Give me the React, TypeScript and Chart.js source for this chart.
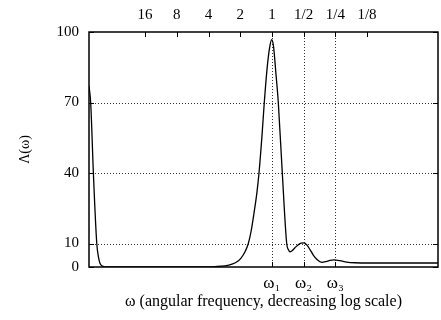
import React, { useEffect, useRef } from 'react';
import { Chart, registerables } from 'chart.js';

Chart.register(...registerables);

// x values are log2(ω); axis is drawn decreasing (reversed)
const omegaLog2 = [
  5.771, 5.717, 5.632, 5.525, 5.468, 5.421, 5.326, 5.2, 4.948, 4.16, 2.898, 2.268,
  1.795, 1.479, 1.258, 1.101, 0.974, 0.848, 0.744, 0.659, 0.564, 0.47, 0.407, 0.312,
  0.24, 0.155, 0.076, 0.006, -0.05, -0.129, -0.202, -0.328, -0.467, -0.524, -0.571,
  -0.634, -0.728, -0.823, -0.918, -1.012, -1.107, -1.202, -1.306, -1.422, -1.57,
  -1.706, -1.832, -1.958, -2.147, -2.359, -2.621, -3.094, -4.04, -5.238,
];
const lambdaValues = [
  77, 70, 40, 10, 4, 1.5, 0.3, 0, 0, 0, 0, 0.05,
  0.2, 0.5, 1.2, 2.2, 3.8, 6.5, 10, 15, 23, 32, 40, 56,
  70, 84, 93, 96.7, 94, 82, 70, 40, 10, 7.3, 6.4,
  6.9, 8.2, 9.4, 10.2, 10.3, 9.3, 7.4, 5.1, 3.2, 2.0,
  2.3, 2.8, 3.0, 2.7, 2.1, 1.8, 1.7, 1.7, 1.7,
];

const topTickValues = [4, 3, 2, 1, 0, -1, -2, -3];
const topTickLabels = ['16', '8', '4', '2', '1', '1/2', '1/4', '1/8'];
const markerTickValues = [0, -1, -2];
const markerTickLabels = ['ω₁', 'ω₂', 'ω₃'];
const yTickValues = [0, 10, 40, 70, 100];
const yGridValues = [10, 40, 70];
const xMin = -5.24;
const xMax = 5.77;

const FAMILY = "'Liberation Serif', 'Times New Roman', serif";
const FONT = { family: FAMILY, size: 15 };

const gridPlugin = {
  id: 'dottedGrid',
  beforeDatasetsDraw(chart: any) {
    const { ctx, chartArea, scales } = chart;
    const { left, right, top, bottom } = chartArea;
    ctx.save();
    ctx.strokeStyle = '#333';
    ctx.lineWidth = 1;
    ctx.setLineDash([1, 2]);
    ctx.beginPath();
    for (const v of yGridValues) {
      const y = Math.round(scales.y.getPixelForValue(v)) + 0.5;
      ctx.moveTo(left, y);
      ctx.lineTo(right, y);
    }
    for (const v of markerTickValues) {
      const x = Math.round(scales.x.getPixelForValue(v)) + 0.5;
      ctx.moveTo(x, bottom);
      ctx.lineTo(x, top);
    }
    ctx.stroke();
    ctx.restore();
  },
};

const framePlugin = {
  id: 'frame',
  afterDatasetsDraw(chart: any) {
    const { ctx, chartArea, scales } = chart;
    const { left, right, top, bottom } = chartArea;
    ctx.save();
    ctx.strokeStyle = '#000';
    ctx.lineWidth = 1;
    ctx.beginPath();
    for (const v of topTickValues) {
      const x = Math.round(scales.x2.getPixelForValue(v)) + 0.5;
      ctx.moveTo(x, top);
      ctx.lineTo(x, top + 5);
    }
    for (const v of markerTickValues) {
      const x = Math.round(scales.x.getPixelForValue(v)) + 0.5;
      ctx.moveTo(x, bottom);
      ctx.lineTo(x, bottom - 5);
    }
    for (const v of yTickValues) {
      const y = Math.round(scales.y.getPixelForValue(v)) + 0.5;
      ctx.moveTo(left, y);
      ctx.lineTo(left + 5, y);
      ctx.moveTo(right, y);
      ctx.lineTo(right - 5, y);
    }
    ctx.stroke();
    ctx.lineWidth = 1.5;
    ctx.strokeRect(left, top, right - left, bottom - top);
    ctx.restore();
  },
};

export default function App() {
  const ref = useRef<HTMLCanvasElement>(null);
  useEffect(() => {
    document.body.style.margin = '0';
    const canvas = ref.current!;
    const chart = new Chart(canvas, {
      type: 'line',
      data: {
        datasets: [
          {
            data: omegaLog2.map((x, i) => ({ x, y: lambdaValues[i] })),
            borderColor: '#000',
            borderWidth: 1.3,
            pointRadius: 0,
            cubicInterpolationMode: 'monotone',
            fill: false,
            xAxisID: 'x',
            yAxisID: 'y',
          },
        ],
      },
      options: {
        responsive: false,
        animation: false,
        layout: { padding: { left: 0, right: 3, top: 0, bottom: 0 } },
        plugins: { legend: { display: false }, tooltip: { enabled: false } },
        scales: {
          x: {
            type: 'linear',
            position: 'bottom',
            min: xMin,
            max: xMax,
            reverse: true,
            border: { display: false },
            grid: { display: false, drawTicks: false },
            afterBuildTicks: (s: any) => {
              s.ticks = markerTickValues.map((v) => ({ value: v }));
            },
            afterFit: (s: any) => {
              s.height = 53;
            },
            ticks: {
              color: '#000',
              font: { family: FAMILY, size: 17 },
              padding: 6,
              maxRotation: 0,
              autoSkip: false,
              callback: (v: any) => {
                const i = markerTickValues.indexOf(Number(v));
                return i >= 0 ? markerTickLabels[i] : '';
              },
            },
            title: {
              display: true,
              text: 'ω (angular frequency, decreasing log scale)',
              color: '#000',
              font: { family: FAMILY, size: 16 },
              padding: { top: 0, bottom: 9 },
            },
          },
          x2: {
            type: 'linear',
            position: 'top',
            min: xMin,
            max: xMax,
            reverse: true,
            border: { display: false },
            grid: { display: false, drawTicks: false },
            afterBuildTicks: (s: any) => {
              s.ticks = topTickValues.map((v) => ({ value: v }));
            },
            afterFit: (s: any) => {
              s.height = 32;
            },
            ticks: {
              color: '#000',
              font: FONT,
              padding: 8,
              maxRotation: 0,
              autoSkip: false,
              callback: (v: any) => {
                const i = topTickValues.indexOf(Number(v));
                return i >= 0 ? topTickLabels[i] : '';
              },
            },
          },
          y: {
            type: 'linear',
            position: 'left',
            min: 0,
            max: 100,
            border: { display: false },
            grid: { display: false, drawTicks: false },
            afterBuildTicks: (s: any) => {
              s.ticks = yTickValues.map((v) => ({ value: v }));
            },
            afterFit: (s: any) => {
              s.width = 89;
            },
            ticks: {
              color: '#000',
              font: FONT,
              padding: 10,
              autoSkip: false,
            },
            title: {
              display: true,
              text: 'Λ(ω)',
              color: '#000',
              font: { family: FAMILY, size: 14 },
              padding: { top: 17, bottom: 0 },
            },
          },
        },
      },
      plugins: [gridPlugin, framePlugin],
    } as any);
    return () => chart.destroy();
  }, []);
  return <canvas ref={ref} width={441} height={320} style={{ display: 'block', width: 441, height: 320 }} />;
}
